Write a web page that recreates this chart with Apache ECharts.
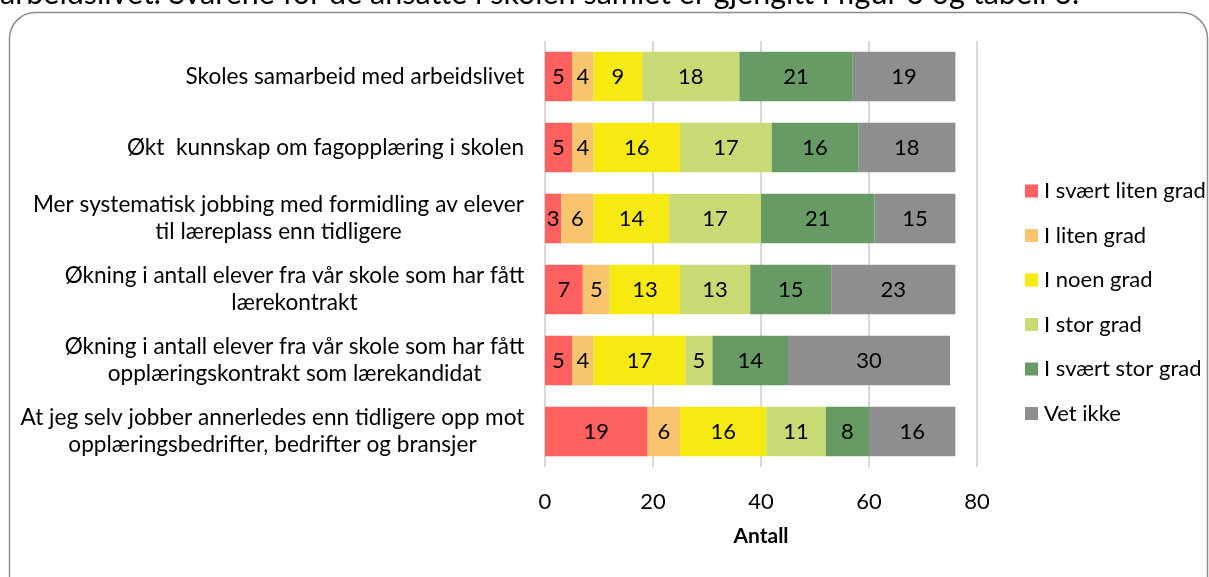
<!DOCTYPE html>
<html>
<head>
<meta charset="utf-8">
<script src="https://cdn.jsdelivr.net/npm/echarts@6/dist/echarts.min.js"></script>
<style>
  html, body { margin: 0; padding: 0; background: #fff; }
  #chart { width: 1209px; height: 577px; }
</style>
</head>
<body>
<div id="chart"></div>
<script>
var categories = [
  "Skoles samarbeid med arbeidslivet",
  "Økt  kunnskap om fagopplæring i skolen",
  "Mer systematisk jobbing med formidling av elever\ntil læreplass enn tidligere",
  "Økning i antall elever fra vår skole som har fått\nlærekontrakt",
  "Økning i antall elever fra vår skole som har fått\nopplæringskontrakt som lærekandidat",
  "At jeg selv jobber annerledes enn tidligere opp mot\nopplæringsbedrifter, bedrifter og bransjer"
];
var seriesNames = ["I svært liten grad", "I liten grad", "I noen grad", "I stor grad", "I svært stor grad", "Vet ikke"];
var sværtLiten = [5, 5, 3, 7, 5, 19];
var liten = [4, 4, 6, 5, 4, 6];
var noen = [9, 16, 14, 13, 17, 16];
var stor = [18, 17, 17, 13, 5, 11];
var sværtStor = [21, 16, 21, 15, 14, 8];
var vetIkke = [19, 18, 15, 23, 30, 16];
var xTicks = [0, 20, 40, 60, 80];
var topText = "arbeidslivet. Svarene for de ansatte i skolen samlet er gjengitt i figur 6 og tabell 6.";

var colors = ["#ff6161", "#fac46e", "#f7ea12", "#c8da74", "#679a64", "#8e8e8e"];
var font = "Lato";
var black = "#000";
var fs = 22;
var catFs = 22.6;

// measure longest line of each label so the lines can be centred in a right-aligned block
var cvs = document.createElement("canvas").getContext("2d");
cvs.font = catFs + "px " + font;
var rich = {};
categories.forEach(function (c, i) {
  var w = 0;
  c.split("\n").forEach(function (l) { w = Math.max(w, cvs.measureText(l).width); });
  rich["w" + i] = { width: Math.ceil(w) + 1, align: "center", fontSize: catFs, fontFamily: font, color: black, lineHeight: 27 };
});

var allData = [sværtLiten, liten, noen, stor, sværtStor, vetIkke];
var series = seriesNames.map(function (n, k) {
  return {
    name: n,
    type: "bar",
    stack: "total",
    barCategoryGap: "30%",
    itemStyle: { color: colors[k] },
    label: {
      show: true,
      position: "inside",
      color: black,
      fontSize: fs,
      fontFamily: font
    },
    data: allData[k]
  };
});

var chart = echarts.init(document.getElementById("chart"));
chart.setOption({
  animation: false,
  textStyle: { fontFamily: font },
  graphic: [
    {
      type: "rect",
      shape: { x: 9.5, y: 12.5, width: 1198, height: 600, r: 26 },
      style: { fill: "none", stroke: "#8c8c8c", lineWidth: 1.5 }
    },
    {
      type: "text",
      x: 0,
      y: -21,
      style: { text: topText, fontSize: 30.5, fontFamily: font, fill: black, verticalAlign: "top" }
    }
  ],
  grid: { left: 545, right: 232, top: 41, bottom: 110 },
  legend: {
    orient: "vertical",
    left: 1020,
    top: 175,
    itemWidth: 13,
    itemHeight: 13,
    itemGap: 22.5,
    icon: "rect",
    textStyle: { fontSize: fs, fontFamily: font, color: black, padding: [0, 0, 0, 1] },
    data: seriesNames
  },
  xAxis: {
    type: "value",
    min: xTicks[0],
    max: xTicks[xTicks.length - 1],
    interval: 20,
    name: "Antall",
    nameLocation: "middle",
    nameGap: 59,
    nameTextStyle: { fontSize: fs - 1, fontWeight: "bold", fontFamily: font, color: black },
    axisLine: { show: false },
    axisTick: { show: false },
    axisLabel: { fontSize: fs, fontFamily: font, color: black, margin: 24 },
    splitLine: { show: true, lineStyle: { color: "#d9d9d9", width: 2 } }
  },
  yAxis: {
    type: "category",
    inverse: true,
    data: categories,
    axisLine: { show: false },
    axisTick: { show: false },
    axisLabel: {
      margin: 20,
      align: "right",
      formatter: function (v, i) {
        return v.split("\n").map(function (l) { return "{w" + i + "|" + l + "}"; }).join("\n");
      },
      rich: rich
    }
  },
  series: series
});
</script>
</body>
</html>
